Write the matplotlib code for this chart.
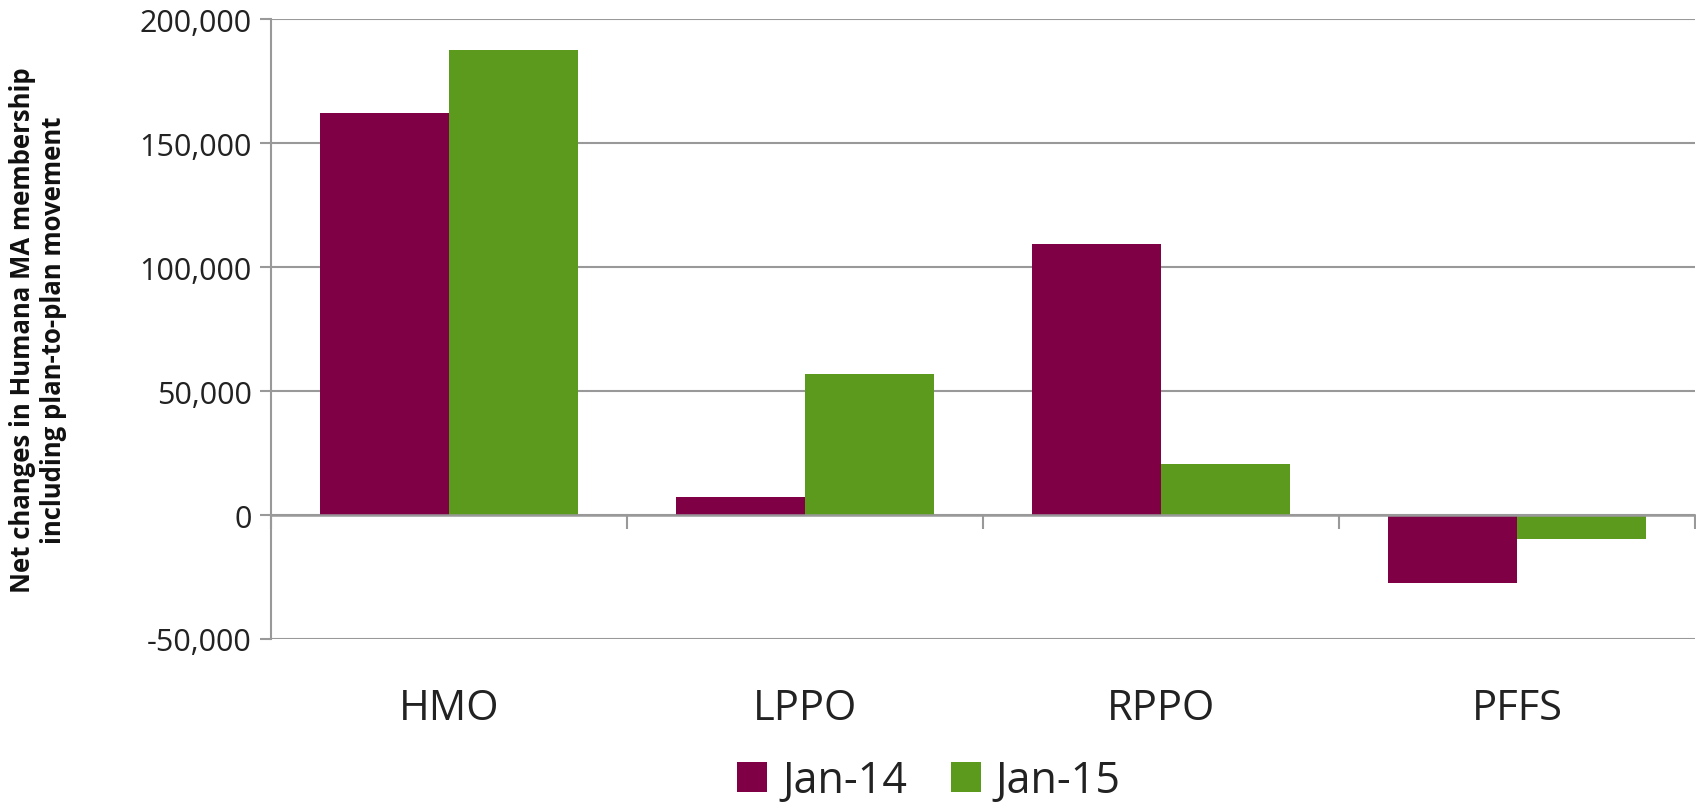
import numpy as np
import matplotlib.pyplot as plt
from matplotlib.ticker import FuncFormatter

# Datos
categories = ["HMO", "LPPO", "RPPO", "PFFS"]
series_names = ["Jan-14", "Jan-15"]
jan14 = [162000, 7400, 109300, -27400]
jan15 = [187300, 57000, 20500, -9700]
yticks = [-50000, 0, 50000, 100000, 150000, 200000]

purple = "#800045"
green = "#5B9A1D"
grid_gray = "#999999"

plt.rcParams['font.family'] = ['Open Sans', 'DejaVu Sans']

fig = plt.figure(figsize=(16.96, 8.04), dpi=100)
ax = fig.add_axes([271 / 1696, 164 / 804, 1424 / 1696, 620 / 804])

x = np.arange(len(categories))
w = 0.362
ax.bar(x - w / 2, jan14, w, color=purple, label=series_names[0], zorder=3)
ax.bar(x + w / 2, jan15, w, color=green, label=series_names[1], zorder=3)

ax.set_xlim(-0.5, len(categories) - 0.5)
ax.set_ylim(-50000, 200000)
ax.set_yticks(yticks)
ax.yaxis.set_major_formatter(FuncFormatter(lambda v, p: f"{int(v):,}"))
ax.grid(axis='y', color=grid_gray, linewidth=1.5, zorder=0)
ax.tick_params(axis='y', length=8, width=1.5, color=grid_gray, labelsize=22,
               labelcolor='#222222', pad=6)

# eje x en cero, marcas en los limites de categoria
for s in ['top', 'right']:
    ax.spines[s].set_visible(False)
ax.spines['bottom'].set_position(('data', 0))
ax.spines['bottom'].set_color(grid_gray)
ax.spines['bottom'].set_linewidth(1.8)
ax.spines['bottom'].set_zorder(4)
ax.spines['left'].set_color(grid_gray)
ax.spines['left'].set_linewidth(1.5)

ax.set_xticks(x)
ax.set_xticklabels(categories)
ax.set_xticks(np.arange(len(categories) + 1) - 0.5, minor=True)
ax.tick_params(axis='x', which='major', length=0, pad=124, labelsize=30,
               labelcolor='#222222')
ax.tick_params(axis='x', which='minor', length=10, width=1.5, color=grid_gray,
               direction='out')

ax.set_ylabel("Net changes in Humana MA membership\nincluding plan-to-plan movement",
              fontsize=18.5, fontweight='bold', color='#111111', linespacing=1.2)
ax.yaxis.set_label_coords(-204 / 1424, 0.5)

fig.legend(loc='center', bbox_to_anchor=(929 / 1696, 22 / 804), ncol=2,
           frameon=False, fontsize=31, handlelength=0.7, handleheight=0.7,
           handletextpad=0.35, columnspacing=1.0, labelcolor='#222222',
           borderaxespad=0, borderpad=0.1)

fig.savefig("out.png", dpi=100)
